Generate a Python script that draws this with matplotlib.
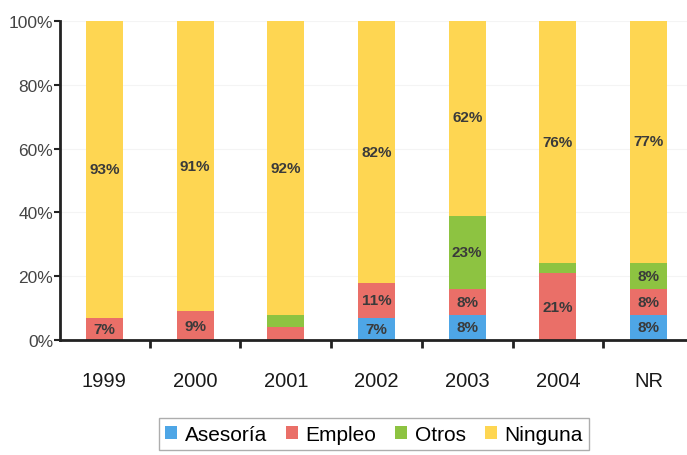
import matplotlib.pyplot as plt
from matplotlib.ticker import PercentFormatter

plt.rcParams['font.family'] = ['Liberation Sans', 'DejaVu Sans']

years = ["1999", "2000", "2001", "2002", "2003", "2004", "NR"]
asesoria = [0, 0, 0, 7, 8, 0, 8]
empleo = [7, 9, 4, 11, 8, 21, 8]
otros = [0, 0, 4, 0, 23, 3, 8]
ninguna = [93, 91, 92, 82, 62, 76, 77]

series = [("Asesoría", asesoria, "#4ea6e6"),
          ("Empleo", empleo, "#ea6f68"),
          ("Otros", otros, "#8dc341"),
          ("Ninguna", ninguna, "#fed652")]

fig = plt.figure(figsize=(6.87, 4.56), dpi=100)
ax = fig.add_axes([60/687, 0.252, 633/687, 0.70])

x = list(range(len(years)))
bottom = [0] * len(years)
for name, vals, col in series:
    ax.bar(x, vals, 0.41, bottom=bottom, color=col, label=name, zorder=2)
    for i, v in enumerate(vals):
        if v >= 5:
            ax.text(i, bottom[i] + v / 2, f"{v}%", ha="center", va="center",
                    fontsize=11, fontweight="bold", color="#3a3a3a", zorder=3)
    bottom = [b + v for b, v in zip(bottom, vals)]

ax.set_xlim(-0.49, 6.49)
ax.set_ylim(0, 100)
ax.yaxis.set_major_formatter(PercentFormatter(decimals=0))
ax.set_yticks([0, 20, 40, 60, 80, 100])
ax.grid(axis="y", color="#f4f4f4", linewidth=0.8, zorder=0)

# category labels between boundary ticks
ax.set_xticks([i + 0.5 for i in range(len(years) - 1)])
ax.set_xticklabels([])
ax.set_xticks(x, minor=True)
ax.set_xticklabels(years, minor=True, fontsize=14.5, color="#1a1a1a")
ax.tick_params(axis="x", which="minor", length=0, pad=22)
ax.tick_params(axis="x", which="major", length=6, width=2, color="#222222", direction="out")
ax.tick_params(axis="y", length=4, width=1.5, color="#222222", labelsize=12.5,
               labelcolor="#444444", pad=1)

for s in ["top", "right"]:
    ax.spines[s].set_visible(False)
ax.spines["left"].set_linewidth(2)
ax.spines["bottom"].set_linewidth(2)
ax.spines["left"].set_color("#222222")
ax.spines["bottom"].set_color("#222222")

fig.legend(loc="center", bbox_to_anchor=(0.544, 0.046), ncol=4, fontsize=15,
           handlelength=0.6, handleheight=0.6, handletextpad=0.35, columnspacing=0.9,
           fancybox=False, edgecolor="#999999", borderpad=0.3)

fig.savefig("out.png", dpi=100)
